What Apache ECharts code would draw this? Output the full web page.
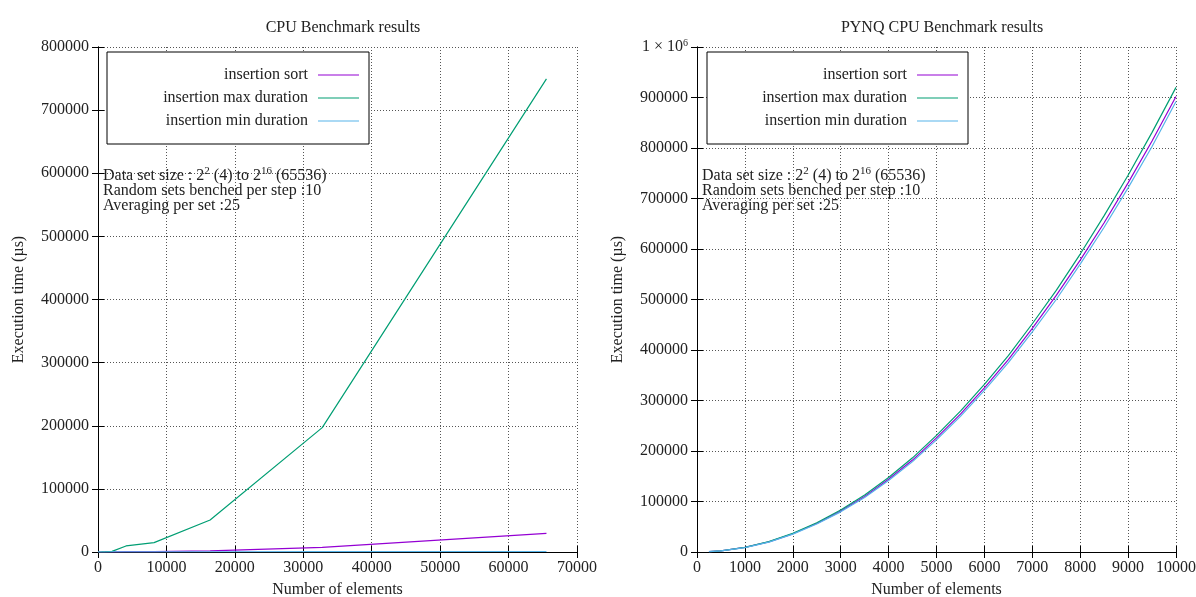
<!DOCTYPE html>
<html><head><meta charset="utf-8">
<script src="https://cdn.jsdelivr.net/npm/echarts@6/dist/echarts.min.js"></script>
<style>html,body{margin:0;padding:0;background:#fff}#c{width:1196px;height:597px}</style>
</head><body><div id="c"></div>
<script>
// ---- Data: left chart (CPU Benchmark results) ----
const leftSizes = [4, 8, 16, 32, 64, 128, 256, 512, 1024, 2048, 4096, 8192, 16384, 32768, 65536];
const leftSort  = [0, 0, 0, 0, 0, 1, 4, 15, 60, 240, 500, 700, 1900, 7300, 29500];
const leftMax   = [0, 0, 0, 0, 0, 2, 10, 40, 150, 900, 9600, 14800, 50800, 197000, 749500];
const leftMin   = [0, 0, 0, 0, 0, 0, 1, 3, 10, 40, 120, 250, 400, 600, 800];

// ---- Data: right chart (PYNQ CPU Benchmark results) ----
const rightSizes = [250, 500, 1000, 1500, 2000, 2500, 3000, 3500, 4000, 4500, 5000, 5500, 6000, 6500, 7000, 7500, 8000, 8500, 9000, 9500, 10000];
const rightSort  = [600, 2300, 9000, 20000, 36000, 56500, 81000, 110000, 144000, 182000, 226000, 273000, 325000, 381000, 443000, 508000, 578000, 652000, 731000, 814000, 902000];
const rightMax   = [620, 2400, 9300, 20600, 37000, 58000, 83000, 113000, 147500, 186500, 231000, 279000, 332000, 389000, 452000, 518000, 590000, 666000, 746000, 831000, 920000];
const rightMin   = [590, 2250, 8800, 19600, 35300, 55500, 79500, 108000, 141500, 179000, 222000, 268500, 320000, 375000, 436000, 500000, 570000, 643000, 721000, 803000, 892000];

const seriesNames = ['insertion sort', 'insertion max duration', 'insertion min duration'];
const annotation = ['Data set size : 2', '2', ' (4) to 2', '16', ' (65536)', 'Random sets benched per step :10', 'Averaging per set :25'];

const colors = ['#9400d3', '#009e73', '#56b4e9'];
const FONT = 'Liberation Serif';
const FS = 16;

function pairs(xs, ys) { return xs.map((x, i) => [x, ys[i]]); }

const chart = echarts.init(document.getElementById('c'), null, {renderer: 'canvas'});

const grids = [
  {left: 98, right: 619, top: 47, bottom: 45, containLabel: false, outerBoundsMode: 'none'},
  {left: 697, right: 20, top: 47, bottom: 45, containLabel: false, outerBoundsMode: 'none'}
];

const splitLine = {show: true, lineStyle: {color: '#555', type: [1, 2], width: 1}};
const axisLineStyle = {show: true, lineStyle: {color: '#000', width: 1}};
const tickIn = {show: true, inside: true, length: 6, lineStyle: {color: '#000'}};
const labelStyle = {color: '#222', fontFamily: FONT, fontSize: FS};
const plain = v => String(v);

function xAxisPair(gi, min, max, interval) {
  return [
    {type: 'value', gridIndex: gi, min, max, interval, position: 'bottom',
     name: 'Number of elements', nameLocation: 'middle', nameGap: 30,
     nameTextStyle: {color: '#222', fontFamily: FONT, fontSize: FS},
     axisLine: axisLineStyle, axisTick: tickIn, splitLine,
     axisLabel: Object.assign({margin: 8, formatter: plain}, labelStyle)},
    {type: 'value', gridIndex: gi, min, max, interval, position: 'top',
     axisLine: axisLineStyle, axisTick: tickIn, splitLine: {show: false},
     axisLabel: {show: false}}
  ];
}
function yAxisPair(gi, min, max, interval, fmt) {
  return [
    {type: 'value', gridIndex: gi, min, max, interval, position: 'left',
     name: 'Execution time (µs)', nameLocation: 'middle', nameGap: 71, nameRotate: 90,
     nameTextStyle: {color: '#222', fontFamily: FONT, fontSize: FS},
     axisLine: axisLineStyle, axisTick: tickIn, splitLine,
     axisLabel: Object.assign({margin: 9, formatter: fmt,
       rich: {s: {fontFamily: FONT, fontSize: 10, padding: [0, 0, 8, 0], color: '#222'}}}, labelStyle)},
    {type: 'value', gridIndex: gi, min, max, interval, position: 'right',
     axisLine: axisLineStyle, axisTick: tickIn, splitLine: {show: false},
     axisLabel: {show: false}}
  ];
}

function mkSeries(xi, yi, xs, ysArr) {
  return ysArr.map((ys, k) => ({
    type: 'line', name: seriesNames[k], xAxisIndex: xi, yAxisIndex: yi,
    data: pairs(xs, ys), showSymbol: false, symbol: 'none',
    lineStyle: {color: colors[k], width: 1.2}, itemStyle: {color: colors[k]},
    clip: true, animation: false
  }));
}

function legendGraphic(x0, y0, w, h, textRight, lx1, lx2, ys) {
  const els = [{type: 'rect', shape: {x: x0, y: y0, width: w, height: h},
    style: {fill: '#fff', stroke: '#000', lineWidth: 1}, z: 100}];
  seriesNames.forEach((n, k) => {
    els.push({type: 'text', x: textRight, y: ys[k], z: 101,
      style: {text: n, fill: '#222', font: FS + 'px "' + FONT + '"', align: 'right', verticalAlign: 'middle'}});
    els.push({type: 'line', shape: {x1: lx1, y1: ys[k], x2: lx2, y2: ys[k]}, z: 101,
      style: {stroke: colors[k], lineWidth: 1.2}});
  });
  return els;
}

function annotationGraphic(x, y) {
  return [{type: 'text', x: x, y: y, z: 50,
    style: {
      text: '{n|' + annotation[0] + '}{s|' + annotation[1] + '}{n|' + annotation[2] + '}{s|' + annotation[3] + '}{n|' + annotation[4] + '}\n{n|' + annotation[5] + '}\n{n|' + annotation[6] + '}',
      fill: '#222', font: FS + 'px "' + FONT + '"', verticalAlign: 'top',
      rich: {
        n: {fontFamily: FONT, fontSize: FS, lineHeight: 15, fill: '#222'},
        s: {fontFamily: FONT, fontSize: 11, lineHeight: 15, padding: [0, 0, 8, 0], fill: '#222'}
      }
    }}];
}

const option = {
  backgroundColor: '#fff',
  animation: false,
  title: [
    {text: 'CPU Benchmark results', left: 338, top: 15, textAlign: 'center',
     textStyle: {fontFamily: FONT, fontSize: FS, fontWeight: 'normal', color: '#222'}},
    {text: 'PYNQ CPU Benchmark results', left: 937, top: 15, textAlign: 'center',
     textStyle: {fontFamily: FONT, fontSize: FS, fontWeight: 'normal', color: '#222'}}
  ],
  grid: grids,
  xAxis: [].concat(xAxisPair(0, 0, 70000, 10000), xAxisPair(1, 0, 10000, 1000)),
  yAxis: [].concat(
    yAxisPair(0, 0, 800000, 100000, v => String(v)),
    yAxisPair(1, 0, 1000000, 100000, v => v === 1000000 ? '1 × 10{s|6}' : String(v))
  ),
  series: [].concat(
    mkSeries(0, 0, leftSizes, [leftSort, leftMax, leftMin]),
    mkSeries(2, 2, rightSizes, [rightSort, rightMax, rightMin])
  ),
  graphic: [].concat(
    legendGraphic(107, 52, 262, 92, 308, 318, 359, [75, 98, 121]),
    legendGraphic(707, 52, 261, 92, 907, 917, 958, [75, 98, 121]),
    annotationGraphic(103, 168),
    annotationGraphic(702, 168)
  )
};
chart.setOption(option);
</script></body></html>
